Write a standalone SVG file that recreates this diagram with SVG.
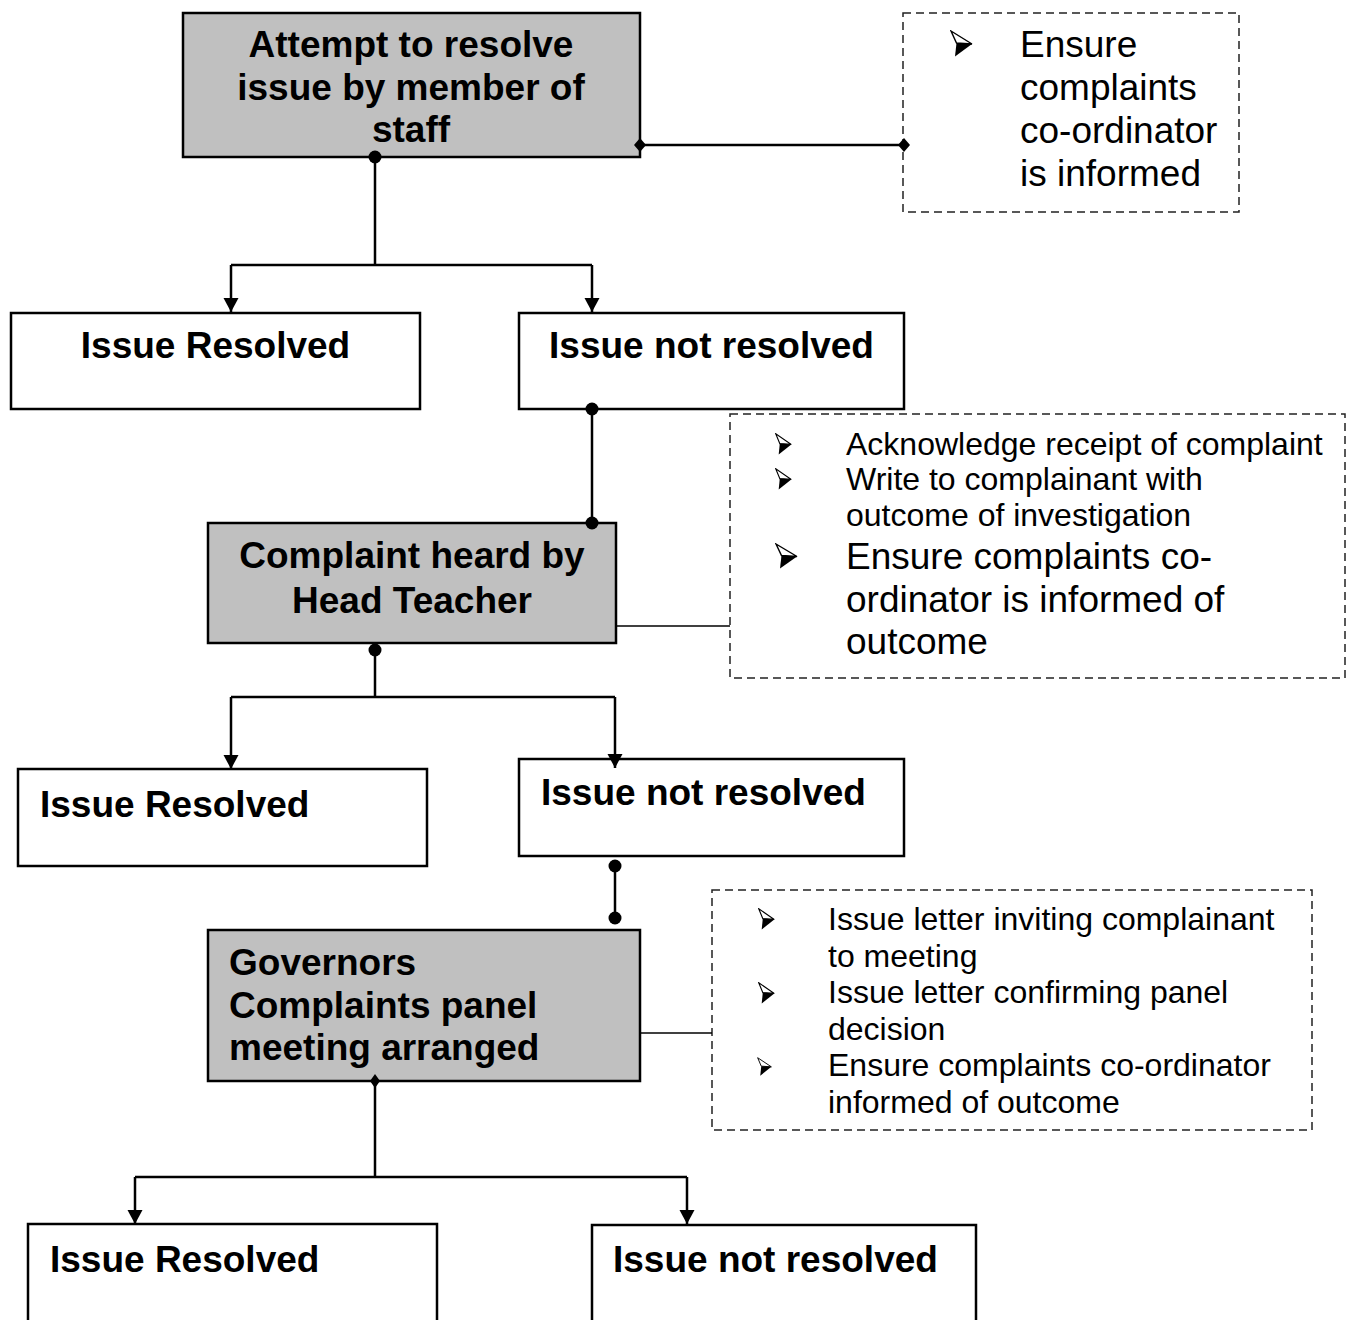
<svg xmlns="http://www.w3.org/2000/svg" xmlns:xlink="http://www.w3.org/1999/xlink" width="1349" height="1320" viewBox="0 0 1349 1320">
<style>
.box{stroke:#000;stroke-width:2.5}
.grey{fill:#c0c0c0}
.white{fill:#fff}
.note{fill:#fff;stroke:#222;stroke-width:1.5;stroke-dasharray:8 5}
.b{font-family:"Liberation Sans",Arial,sans-serif;font-weight:bold;font-size:37px;fill:#000}
.r37{font-family:"Liberation Sans",Arial,sans-serif;font-size:37px;fill:#000}
.r32{font-family:"Liberation Sans",Arial,sans-serif;font-size:32px;fill:#000}
.c{text-anchor:middle}
.ln{fill:none;stroke:#000;stroke-width:2.5}
.thin{fill:none;stroke:#000;stroke-width:1.6}
</style>
<defs>
<marker id="arr" markerUnits="userSpaceOnUse" markerWidth="16" markerHeight="16" refX="14" refY="7.5" orient="auto">
<path d="M0,0 L14,7.5 L0,15 z" fill="#000"/>
</marker>
<symbol id="bullet" viewBox="0 0 23 27" preserveAspectRatio="none">
<polygon points="1,1 22,14 6.5,13" fill="#fff" stroke="#000" stroke-width="1.4" stroke-linejoin="miter"/>
<polygon points="6.5,13 22,14 5,26.5" fill="#000"/>
</symbol>
</defs>
<rect width="1349" height="1320" fill="#fff"/>

<g id="node-attempt">
<rect class="box grey" x="183" y="13" width="457" height="144"/>
<text class="b c" x="411" y="57">Attempt to resolve</text>
<text class="b c" x="411" y="100">issue by member of</text>
<text class="b c" x="411" y="142">staff</text>
</g>

<g id="note-1">
<rect class="note" x="903" y="13" width="336" height="199"/>
<use xlink:href="#bullet" x="950" y="30" width="23" height="27"/>
<text class="r37" x="1020" y="57">Ensure</text>
<text class="r37" x="1020" y="100">complaints</text>
<text class="r37" x="1020" y="143">co-ordinator</text>
<text class="r37" x="1020" y="186">is informed</text>
</g>

<g id="node-resolved-1">
<rect class="box white" x="11" y="313" width="409" height="96"/>
<text class="b c" x="215.5" y="358">Issue Resolved</text>
</g>

<g id="node-notresolved-1">
<rect class="box white" x="519" y="313" width="385" height="96"/>
<text class="b c" x="711.5" y="358">Issue not resolved</text>
</g>

<g id="node-headteacher">
<rect class="box grey" x="208" y="523" width="408" height="120"/>
<text class="b c" x="412" y="568">Complaint heard by</text>
<text class="b c" x="412" y="613">Head Teacher</text>
</g>

<g id="note-2">
<rect class="note" x="730" y="414" width="615" height="264"/>
<use xlink:href="#bullet" x="775" y="433" width="17" height="22"/>
<text class="r32" x="846" y="455">Acknowledge receipt of complaint</text>
<use xlink:href="#bullet" x="775" y="468" width="17" height="22"/>
<text class="r32" x="846" y="490">Write to complainant with</text>
<text class="r32" x="846" y="526">outcome of investigation</text>
<use xlink:href="#bullet" x="775" y="543" width="23" height="26"/>
<text class="r37" x="846" y="569">Ensure complaints co-</text>
<text class="r37" x="846" y="612">ordinator is informed of</text>
<text class="r37" x="846" y="654">outcome</text>
</g>

<g id="node-resolved-2">
<rect class="box white" x="18" y="769" width="409" height="97"/>
<text class="b" x="40" y="817">Issue Resolved</text>
</g>

<g id="node-notresolved-2">
<rect class="box white" x="519" y="759" width="385" height="97"/>
<text class="b" x="541" y="805">Issue not resolved</text>
</g>

<g id="node-governors">
<rect class="box grey" x="208" y="930" width="432" height="151"/>
<text class="b" x="229" y="975">Governors</text>
<text class="b" x="229" y="1018">Complaints panel</text>
<text class="b" x="229" y="1060">meeting arranged</text>
</g>

<g id="note-3">
<rect class="note" x="712" y="890" width="600" height="240"/>
<use xlink:href="#bullet" x="758" y="908" width="17" height="22"/>
<text class="r32" x="828" y="930">Issue letter inviting complainant</text>
<text class="r32" x="828" y="967">to meeting</text>
<use xlink:href="#bullet" x="758" y="982" width="17" height="22"/>
<text class="r32" x="828" y="1003">Issue letter confirming panel</text>
<text class="r32" x="828" y="1040">decision</text>
<use xlink:href="#bullet" x="757" y="1057" width="15" height="19"/>
<text class="r32" x="828" y="1076">Ensure complaints co-ordinator</text>
<text class="r32" x="828" y="1113">informed of outcome</text>
</g>

<g id="node-resolved-3">
<rect class="box white" x="28" y="1224" width="409" height="110"/>
<text class="b" x="50" y="1272">Issue Resolved</text>
</g>

<g id="node-notresolved-3">
<rect class="box white" x="592" y="1225" width="384" height="110"/>
<text class="b" x="613" y="1272">Issue not resolved</text>
</g>

<g id="connectors">
<path class="ln" d="M375,157 V265 M231,265 H592"/>
<path class="ln" d="M231,265 V312" marker-end="url(#arr)"/>
<path class="ln" d="M592,265 V312" marker-end="url(#arr)"/>
<circle cx="375" cy="157" r="6.5" fill="#000"/>

<path class="ln" d="M640,145 H904"/>
<polygon points="640,138 646,145 640,152 634,145" fill="#000"/>
<polygon points="904,138 910,145 904,152 898,145" fill="#000"/>

<path class="ln" d="M592,409 V523"/>
<circle cx="592" cy="409" r="6.5" fill="#000"/>
<circle cx="592" cy="523" r="6.5" fill="#000"/>

<path class="thin" d="M616,626 H730"/>

<path class="ln" d="M375,650 V697 M231,697 H615"/>
<path class="ln" d="M231,697 V769" marker-end="url(#arr)"/>
<path class="ln" d="M615,697 V768" marker-end="url(#arr)"/>
<circle cx="375" cy="650" r="6.5" fill="#000"/>

<path class="ln" d="M615,866 V919"/>
<circle cx="615" cy="866" r="6.5" fill="#000"/>
<circle cx="615" cy="918" r="6.5" fill="#000"/>

<path class="thin" d="M640,1033 H712"/>

<path class="ln" d="M375,1081 V1177 M135,1177 H687"/>
<path class="ln" d="M135,1177 V1224" marker-end="url(#arr)"/>
<path class="ln" d="M687,1177 V1224" marker-end="url(#arr)"/>
<polygon points="375,1074 380,1081 375,1088 370,1081" fill="#000"/>
</g>
</svg>
